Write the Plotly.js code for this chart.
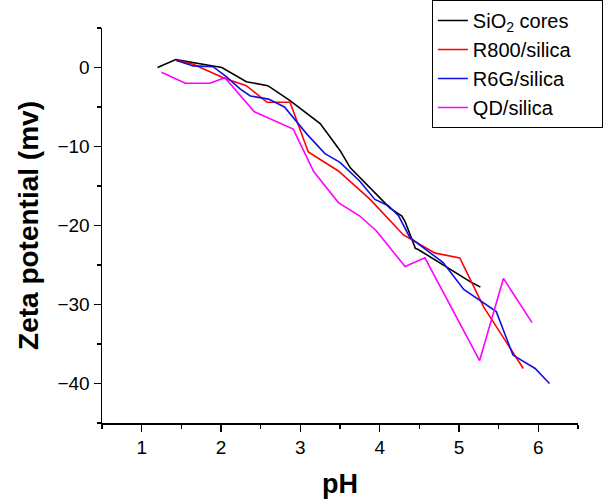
<!DOCTYPE html>
<html>
<head>
<meta charset="utf-8">
<script src="https://cdn.plot.ly/plotly-3.0.1.min.js"></script>
<style>html,body{margin:0;padding:0;background:#fff;}#chart{width:616px;height:499px;}</style>
</head>
<body>
<div id="chart"></div>
<script>
// SiO2 cores
const sio2_pH   = [1.20, 1.43, 1.90, 2.01, 2.32, 2.59, 2.74, 2.87, 3.25, 3.50, 3.63, 3.96, 4.13, 4.28, 4.32, 4.45, 4.48, 5.14, 5.27];
const sio2_zeta = [0.0, 1.0, 0.2, 0.0, -1.8, -2.3, -3.3, -4.2, -7.1, -10.5, -12.7, -16.0, -17.8, -18.8, -19.5, -22.9, -23.0, -27.1, -27.8];
// R800/silica
const r800_pH   = [1.44, 1.65, 2.05, 2.32, 2.58, 2.87, 3.10, 3.48, 3.88, 4.30, 4.70, 5.01, 5.31, 5.81];
const r800_zeta = [0.9, 0.4, -1.4, -2.3, -4.4, -4.4, -10.7, -13.1, -16.7, -21.2, -23.5, -24.1, -30.3, -38.1];
// R6G/silica
const r6g_pH   = [1.44, 1.65, 1.90, 2.07, 2.24, 2.37, 2.60, 2.80, 3.08, 3.31, 3.50, 3.75, 3.94, 4.11, 4.24, 4.38, 4.80, 5.06, 5.47, 5.68, 5.96, 6.14];
const r6g_zeta = [0.9, 0.2, 0.1, -1.2, -2.7, -3.6, -4.0, -5.0, -8.4, -10.9, -12.0, -14.4, -16.7, -17.5, -18.8, -21.5, -24.7, -28.1, -30.9, -36.4, -38.1, -40.0];
// QD/silica
const qd_pH   = [1.25, 1.55, 1.86, 2.05, 2.42, 2.72, 2.91, 3.17, 3.48, 3.75, 3.96, 4.32, 4.57, 5.26, 5.56, 5.92];
const qd_zeta = [-0.6, -2.0, -2.0, -1.3, -5.6, -7.0, -7.8, -13.2, -17.1, -18.8, -20.7, -25.2, -24.1, -37.1, -26.7, -32.3];

const names  = ['SiO<sub>2</sub> cores&nbsp;&nbsp;&nbsp;&nbsp;&nbsp;', 'R800/silica', 'R6G/silica', 'QD/silica'];
const colors = ['#000000', '#ff0000', '#1010e0', '#ff00ff'];
const xs = [sio2_pH, r800_pH, r6g_pH, qd_pH];
const ys = [sio2_zeta, r800_zeta, r6g_zeta, qd_zeta];

const traces = xs.map((x, i) => ({
  x: x, y: ys[i], name: names[i], type: 'scatter', mode: 'lines',
  line: {color: colors[i], width: 1.6}
}));

const font = 'Liberation Sans, Arial, sans-serif';
const layout = {
  width: 616, height: 499,
  margin: {l: 102, r: 38, t: 28, b: 76, autoexpand: false},
  paper_bgcolor: '#fff', plot_bgcolor: '#fff',
  font: {family: font, color: '#000', size: 19},
  showlegend: true,
  legend: {x: 0.693, xanchor: 'left', y: 1.071, yanchor: 'top',
           bordercolor: '#000', borderwidth: 1, bgcolor: '#fff',
           font: {family: font, size: 20, color: '#000'}, tracegroupgap: 0},
  xaxis: {
    range: [0.5, 6.5], dtick: 1, tick0: 0, showgrid: false, zeroline: false,
    showline: true, linecolor: '#000', linewidth: 1.5, automargin: false,
    ticks: 'outside', ticklen: 7, tickwidth: 1.5, tickcolor: '#000',
    minor: {dtick: 0.5, tick0: 0.5, ticks: 'outside', ticklen: 4, tickwidth: 1.5, tickcolor: '#000', showgrid: false},
    tickfont: {family: font, size: 19, color: '#000'},
    title: {text: '<b>pH</b>', font: {family: font, size: 27, color: '#000'}, standoff: 18}
  },
  yaxis: {
    range: [-45, 5], dtick: 10, tick0: 0, showgrid: false, zeroline: false,
    showline: true, linecolor: '#000', linewidth: 1.5, automargin: false,
    ticks: 'outside', ticklen: 7, tickwidth: 1.5, tickcolor: '#000',
    minor: {dtick: 5, tick0: 5, ticks: 'outside', ticklen: 4, tickwidth: 1.5, tickcolor: '#000', showgrid: false},
    tickfont: {family: font, size: 19, color: '#000'},
    title: {text: '<b>Zeta potential (mv)</b>', font: {family: font, size: 28, color: '#000'}, standoff: 10}
  }
};

Plotly.newPlot('chart', traces, layout, {displayModeBar: false, staticPlot: true});
</script>
</body>
</html>
